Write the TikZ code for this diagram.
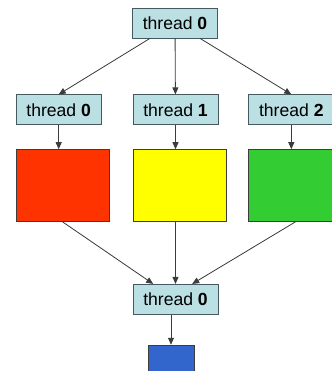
\documentclass[tikz,border=0pt]{standalone}
\usepackage{fontspec}
\setmainfont{Liberation Sans}
\usetikzlibrary{positioning,arrows.meta,calc}
\definecolor{ThreadFill}{RGB}{187,224,228}
\definecolor{ThreadDraw}{RGB}{70,88,96}
\definecolor{EdgeGray}{RGB}{60,60,60}
\definecolor{WorkRed}{RGB}{255,51,0}
\definecolor{WorkYellow}{RGB}{255,255,0}
\definecolor{WorkGreen}{RGB}{51,204,51}
\definecolor{ResultBlue}{RGB}{51,102,204}
\tikzset{
  flow/.style={-{Triangle[length=2.1mm,width=1.8mm]},line width=0.7pt,draw=EdgeGray},
  threadbox/.style={draw=ThreadDraw,fill=ThreadFill,line width=0.7pt,
    minimum width=2.55cm,minimum height=0.9cm,inner sep=0pt,
    font=\fontsize{15}{18}\selectfont},
  workbox/.style={draw=EdgeGray,line width=0.6pt,
    minimum width=2.79cm,minimum height=2.16cm,inner sep=0pt}
}
\begin{document}
\begin{tikzpicture}[node distance=0.93cm]
  \clip (0,0) rectangle (9.96,-11.13);
  \node[threadbox] (top) at (5.25,-0.69) {thread \textbf{0}};
  \node[threadbox,below=1.68cm of top,xshift=0.015cm] (t1) {thread \textbf{1}};
  \node[threadbox,left=of t1] (t0) {thread \textbf{0}};
  \node[threadbox,right=0.9cm of t1] (t2) {thread \textbf{2}};
  \node[workbox,fill=WorkRed,below=0.72cm of t0,xshift=0.12cm] (red) {};
  \node[workbox,fill=WorkYellow,below=0.72cm of t1,xshift=0.12cm] (yellow) {};
  \node[workbox,fill=WorkGreen,below=0.72cm of t2,xshift=0.12cm] (green) {};
  \node[threadbox,below=1.86cm of yellow,xshift=-0.12cm] (bot) {thread \textbf{0}};
  \node[draw=EdgeGray,fill=ResultBlue,line width=0.6pt,minimum width=1.38cm,
    minimum height=0.81cm,inner sep=0pt,below=0.9cm of bot,xshift=-0.135cm] (result) {};
  % fork
  \draw[flow] (top) -- (t0.north);
  \draw[flow] (top) -- (t1);
  \draw[flow] (top) -- (t2.north);
  \draw[flow] (t0.south) -- (t0.south |- red.north);
  \draw[flow] (t1.south) -- (t1.south |- yellow.north);
  \draw[flow] (t2.south) -- (t2.south |- green.north);
  % join
  \draw[flow] (red.south) -- ($(bot.north)+(-0.67,0)$);
  \draw[flow] (bot.north |- yellow.south) -- (bot.north);
  \draw[flow] (green.south) -- ($(bot.north)+(0.5,0)$);
  \draw[flow] (bot.south -| result.north) -- (result.north);
\end{tikzpicture}
\end{document}
